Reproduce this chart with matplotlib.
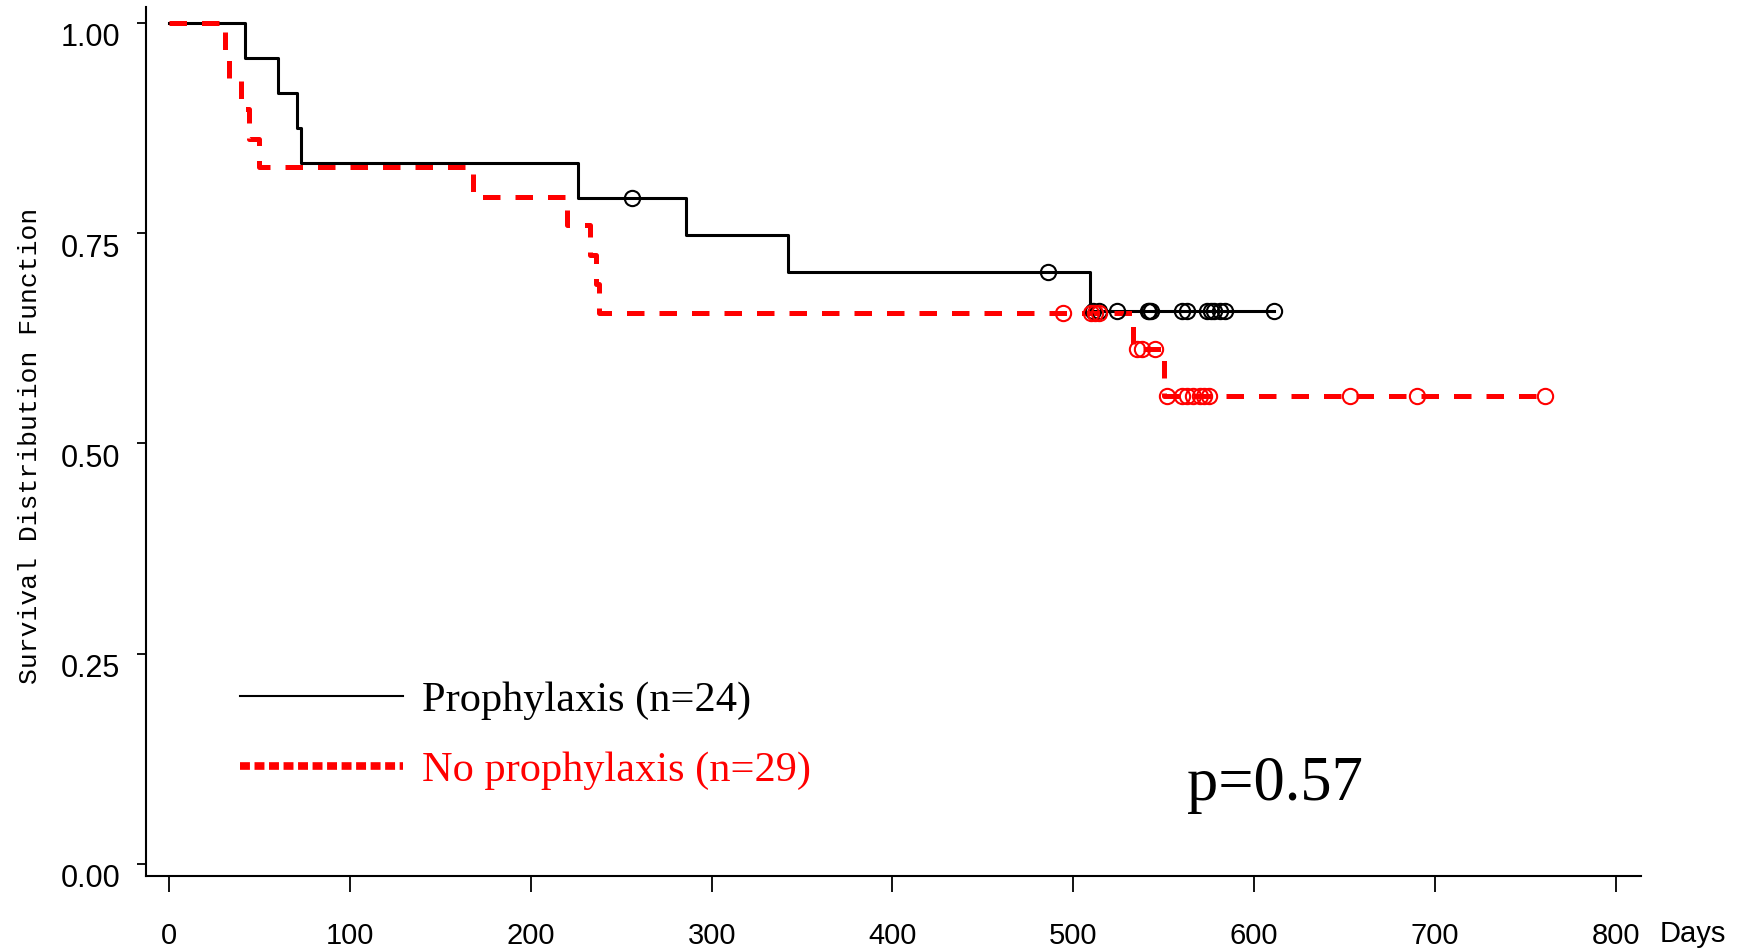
import numpy as np
import matplotlib
matplotlib.use("Agg")
import matplotlib.pyplot as plt
import matplotlib.transforms as mtransforms
from matplotlib.lines import Line2D

# Kaplan-Meier steps (days, survival)
prophylaxis_days = [0, 42, 60, 71, 73, 226, 286, 342, 509, 611]
prophylaxis_surv = [1.0, 0.958, 0.917, 0.875, 0.833, 0.792, 0.748, 0.704, 0.657, 0.657]
prophylaxis_censored = [256, 486, 511, 514, 524, 541, 542, 543, 560, 563,
                        574, 576, 578, 581, 584, 611]

no_proph_days = [0, 31, 33, 40, 44, 50, 168, 220, 233, 236, 238, 533, 550, 761]
no_proph_surv = [1.0, 0.966, 0.931, 0.897, 0.862, 0.828, 0.793, 0.759, 0.724,
                 0.690, 0.655, 0.612, 0.556, 0.556]
no_proph_censored = [494, 510, 512, 514, 535, 538, 545, 552, 560, 563, 566,
                     570, 572, 575, 653, 690, 761]

x_ticks = [0, 100, 200, 300, 400, 500, 600, 700, 800]
y_ticks = [0.0, 0.25, 0.50, 0.75, 1.0]
legend_labels = ["Prophylaxis (n=24)", "No prophylaxis (n=29)"]
p_text = "p=0.57"


def surv_at(days, surv, t):
    idx = np.searchsorted(days, t, side="right") - 1
    return np.asarray(surv)[idx]


fig = plt.figure(figsize=(17.47, 9.49), dpi=100)
ax = fig.add_axes([0.0836, 0.0769, 0.8560, 0.9157])

# curves
ax.step(prophylaxis_days, prophylaxis_surv, where="post", color="black", lw=2.2)
ax.step(no_proph_days, no_proph_surv, where="post", color="red", lw=3.6,
        linestyle=(0, (3.5, 3)))

# censor marks
ax.plot(prophylaxis_censored,
        surv_at(prophylaxis_days, prophylaxis_surv, prophylaxis_censored),
        "o", ms=11, mfc="none", mec="black", mew=1.5)
ax.plot(no_proph_censored,
        surv_at(no_proph_days, no_proph_surv, no_proph_censored),
        "o", ms=11, mfc="none", mec="red", mew=1.5)

ax.set_xlim(-12.7, 814.1)
ax.set_ylim(-0.0143, 1.0187)

ax.spines["top"].set_visible(False)
ax.spines["right"].set_visible(False)
ax.spines["left"].set_linewidth(1.5)
ax.spines["bottom"].set_linewidth(1.5)

ax.set_xticks(x_ticks)
ax.set_xticklabels([str(v) for v in x_ticks], fontsize=21, family="Liberation Sans")
ax.set_yticks(y_ticks)
ax.set_yticklabels(["%.2f" % v for v in y_ticks], fontsize=22, family="Liberation Sans")
ax.tick_params(axis="x", direction="out", length=11.5, width=1.3, pad=21.5)
ax.tick_params(axis="y", direction="out", length=6.7, width=1.3, pad=12)

# y labels sit a little below their ticks in the original
shift = mtransforms.ScaledTranslation(0, -12 / 100, fig.dpi_scale_trans)
for lab in ax.get_yticklabels():
    lab.set_transform(lab.get_transform() + shift)

fig.text(30 / 1747, 0.530, "Survival Distribution Function", rotation=90,
         ha="center", va="center", fontsize=19, family="Liberation Mono")
fig.text(1660 / 1747, 1 - 941.7 / 949, "Days", ha="left", va="baseline",
         fontsize=21, family="Liberation Sans")

# legend
handles = [Line2D([], [], color="black", lw=1.5),
           Line2D([], [], color="red", lw=5.5, linestyle=(0, (1.3, 0.6)))]
leg = ax.legend(handles, legend_labels, loc="upper left",
                bbox_to_anchor=(239.5 / 1747, 1 - 681 / 949),
                bbox_transform=fig.transFigure, frameon=False,
                prop={"family": "Liberation Serif", "size": 30.5},
                handlelength=3.87, handletextpad=0.45, labelspacing=0.75,
                borderpad=0, borderaxespad=0)
leg.get_texts()[0].set_color("black")
leg.get_texts()[1].set_color("red")

fig.text(1187 / 1747, 1 - 800 / 949, p_text, ha="left", va="baseline",
         fontsize=45, family="Liberation Serif")

fig.savefig("out.png", dpi=100)
